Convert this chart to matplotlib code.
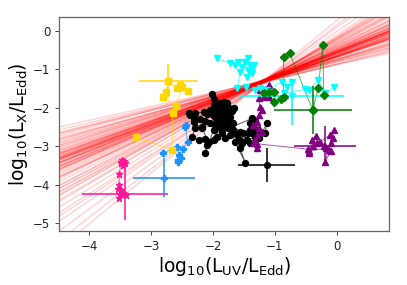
import matplotlib
matplotlib.use("Agg")
import matplotlib.pyplot as plt
import numpy as np

# posterior samples of the fit, y = pivot_y + slope * (x - pivot_x)
pivot_x = -1.2
fit_slopes = [0.62, 0.58, 0.66, 0.55, 0.70, 0.60, 0.64, 0.52, 0.74, 0.57,
              0.61, 0.68, 0.49, 0.63, 0.59, 0.72, 0.54, 0.65, 0.60, 0.77,
              0.51, 0.67, 0.56, 0.62, 0.69, 0.47, 0.63, 0.58, 0.75, 0.53,
              0.66, 0.61, 0.71, 0.50, 0.64, 0.57, 0.79, 0.60, 0.55, 0.68,
              0.62, 0.73, 0.48, 0.65, 0.59, 0.70, 0.56, 0.63, 0.46, 0.76,
              0.61, 0.67, 0.54, 0.60, 0.64, 0.42, 0.40, 0.44, 0.38, 0.43,
              0.36, 0.41, 0.45, 0.82, 0.86, 0.91, 0.84, 0.95, 1.02, 0.88,
              1.10, 0.83, 0.98, 1.18, 0.90, 1.25, 0.85, 1.05, 1.32, 0.93]
fit_pivot_y = [-1.33, -1.30, -1.36, -1.32, -1.35, -1.29, -1.34, -1.31, -1.37, -1.33,
               -1.28, -1.35, -1.32, -1.30, -1.36, -1.33, -1.31, -1.34, -1.38, -1.32,
               -1.30, -1.33, -1.35, -1.29, -1.34, -1.32, -1.36, -1.31, -1.33, -1.30,
               -1.35, -1.32, -1.28, -1.34, -1.31, -1.37, -1.33, -1.30, -1.35, -1.32,
               -1.29, -1.34, -1.33, -1.31, -1.36, -1.30, -1.33, -1.35, -1.32, -1.31,
               -1.34, -1.30, -1.33, -1.36, -1.32, -1.31, -1.35, -1.29, -1.33, -1.37,
               -1.32, -1.30, -1.34, -1.33, -1.36, -1.30, -1.35, -1.32, -1.38, -1.31,
               -1.34, -1.29, -1.36, -1.33, -1.31, -1.35, -1.30, -1.37, -1.32, -1.34]

# sources: points (x, y) and summary error bar (x, y, xerr, yerr_low, yerr_high)
pink_x = [-3.47, -3.44, -3.48, -3.45, -3.42, -3.46, -3.49, -3.51, -3.52, -3.53, -3.48, -3.45, -3.50, -3.52, -3.40]
pink_y = [-3.35, -3.40, -3.45, -3.48, -3.44, -3.50, -3.42, -3.73, -4.01, -4.12, -4.14, -4.22, -4.25, -4.36, -4.26]
pink_err = (-3.42, -4.25, 0.70, 0.68, 0.68)

blue_x = [-2.80, -2.58, -2.55, -2.57, -2.56, -2.52, -2.48, -2.41, -2.45, -2.43]
blue_y = [-3.17, -3.02, -3.23, -3.42, -3.36, -3.30, -3.08, -2.89, -2.50, -2.45]
blue_err = (-2.79, -3.82, 0.50, 0.50, 0.50)

gold_x = [-3.25, -2.66, -2.65, -2.60, -2.80, -2.76, -2.72, -2.58, -2.53, -2.40, -2.50, -2.60]
gold_y = [-2.77, -3.10, -2.13, -1.96, -1.72, -1.59, -1.31, -1.50, -1.41, -1.56, -1.47, -1.96]
gold_err = (-2.72, -1.31, 0.47, 0.45, 0.45)

black_x = [-2.02, -1.98, -1.99, -1.94, -2.05, -1.88, -1.83, -1.78, -1.74, -1.80,
           -1.86, -1.96, -1.94, -2.02, -2.10, -2.15, -2.29, -2.37, -2.38, -2.31,
           -2.21, -2.13, -2.05, -2.18, -2.29, -2.34, -2.23, -2.13, -2.10, -2.13,
           -1.99, -1.91, -1.83, -1.75, -1.72, -1.78, -1.86, -1.94, -1.99, -1.80,
           -1.72, -1.67, -1.61, -1.57, -1.64, -1.53, -1.56, -1.48, -1.75, -1.37,
           -1.40, -1.32, -1.35, -1.41, -1.29, -1.37, -1.44, -1.32, -1.24, -1.26,
           -1.13, -1.16, -1.45, -1.51, -1.56, -1.40, -1.90, -1.85, -1.80, -1.92,
           -1.88, -1.84, -1.96, -2.00, -1.78, -1.82, -1.70, -1.66, -1.90, -1.97,
           -1.86, -2.07, -2.18, -2.31, -1.67]
black_y = [-1.65, -1.78, -1.93, -2.02, -2.06, -1.89, -1.96, -1.89, -2.02, -2.11,
           -2.19, -2.24, -2.36, -2.15, -2.17, -2.11, -2.15, -2.19, -2.13, -2.28,
           -2.30, -2.36, -2.41, -2.50, -2.54, -2.76, -2.84, -2.82, -2.97, -3.19,
           -2.58, -2.50, -2.45, -2.41, -2.24, -2.32, -2.67, -2.76, -2.84, -2.80,
           -2.71, -2.58, -2.71, -2.84, -2.89, -2.93, -3.06, -3.43, -2.54, -2.28,
           -2.41, -2.36, -2.50, -2.58, -2.58, -2.67, -2.67, -2.76, -2.67, -2.80,
           -2.41, -2.67, -2.84, -2.67, -2.63, -2.93, -2.05, -2.10, -2.20, -2.12,
           -2.28, -2.32, -2.10, -2.20, -2.05, -1.85, -2.10, -2.02, -2.40, -2.45,
           -2.55, -2.89, -2.54, -2.37, -2.41]
black_err = (-1.13, -3.49, 0.46, 0.45, 0.45)

purple_x = [-1.10, -1.24, -1.13, -1.09, -1.18, -1.26, -1.24, -1.21, -1.25, -1.29,
            -1.35, -1.26, -1.21, -1.29, -1.32, -1.29, -1.29, -1.35,
            -0.46, -0.45, -0.40, -0.34, -0.32, -0.21, -0.18, -0.45, -0.38, -0.28,
            -0.11, -0.07, -0.13, -0.10, -0.19, -0.05, -0.09]
purple_y = [-1.41, -1.54, -1.63, -1.72, -1.72, -1.76, -1.98, -2.06, -2.19, -2.37,
            -2.45, -2.54, -2.63, -2.71, -2.84, -2.95, -3.06, -2.93,
            -3.08, -3.19, -2.84, -2.75, -2.92, -3.01, -3.06, -3.12, -3.00, -2.90,
            -2.71, -2.80, -3.10, -3.14, -3.41, -2.57, -2.93]
purple_err = (-0.19, -2.99, 0.50, 0.50, 0.50)

cyan_x = [-1.94, -1.72, -1.64, -1.59, -1.53, -1.48, -1.44, -1.41, -1.37, -1.33,
          -1.43, -1.37, -1.45, -1.56, -1.61, -1.46, -1.32, -1.24, -1.13, -0.89,
          -0.73, -0.80, -0.86, -0.51, -0.45, -0.30, -0.19, -0.05]
cyan_y = [-0.72, -0.85, -0.89, -0.81, -0.94, -0.81, -0.72, -0.89, -0.98, -0.89,
          -1.02, -1.11, -1.20, -1.07, -1.50, -1.47, -1.54, -1.50, -1.53, -1.33,
          -1.33, -1.47, -1.63, -1.52, -1.54, -1.28, -1.62, -1.47]
cyan_err = (-0.73, -1.69, 0.85, 0.76, 0.41)

green_x = [-1.18, -1.10, -1.02, -1.01, -0.90, -0.86, -0.86, -0.76, -0.39, -0.30, -0.23, -0.21]
green_y = [-1.61, -1.59, -1.86, -1.60, -1.78, -1.72, -0.69, -0.59, -2.06, -1.50, -0.37, -1.67]
green_err = (-0.39, -2.06, 0.63, 0.63, 0.63)

sources = [
    (pink_x, pink_y, pink_err, 'deeppink', '*', 5),
    (blue_x, blue_y, blue_err, 'dodgerblue', 'P', 4.5),
    (gold_x, gold_y, gold_err, 'gold', 's', 4.2),
    (black_x, black_y, black_err, 'black', 'o', 4.3),
    (purple_x, purple_y, purple_err, 'purple', '^', 4.6),
    (cyan_x, cyan_y, cyan_err, 'cyan', 'v', 4.6),
    (green_x, green_y, green_err, 'green', 'D', 3.8),
]

fig = plt.figure(figsize=(4.07, 2.85), dpi=100)
ax = fig.add_axes([0.146, 0.189, 0.811, 0.752])

xlim = (-4.48, 0.85)
xx = np.array(xlim)
for m, yp in zip(fit_slopes, fit_pivot_y):
    ax.plot(xx, yp + m * (xx - pivot_x), color='red', alpha=0.18, lw=1.0, zorder=1)

for xs, ys, err, col, mk, ms in sources:
    ax.plot(xs, ys, '-', color=col, lw=0.7, alpha=0.65, zorder=2)
    ax.plot(xs, ys, mk, color=col, ms=ms, zorder=3)
    ex, ey, xe, ylo, yhi = err
    ax.errorbar([ex], [ey], xerr=[[xe], [xe]], yerr=[[ylo], [yhi]],
                fmt=mk, color=col, ms=ms, elinewidth=1.3, alpha=0.85, zorder=3)

ax.set_xlim(*xlim)
ax.set_ylim(-5.21, 0.36)
ax.set_xticks([-4, -3, -2, -1, 0])
ax.set_yticks([-5, -4, -3, -2, -1, 0])
ax.tick_params(labelsize=8.5, length=3, width=0.6, colors='#222222')
for s in ax.spines.values():
    s.set_color('#666666')
    s.set_linewidth(0.9)

ax.set_xlabel(r'log$_{10}$(L$_{\rm UV}$/L$_{\rm Edd}$)', fontsize=13.5, labelpad=1)
ax.set_ylabel(r'log$_{10}$(L$_{\rm X}$/L$_{\rm Edd}$)', fontsize=13.5, labelpad=2)

fig.savefig('out.png', dpi=100)
